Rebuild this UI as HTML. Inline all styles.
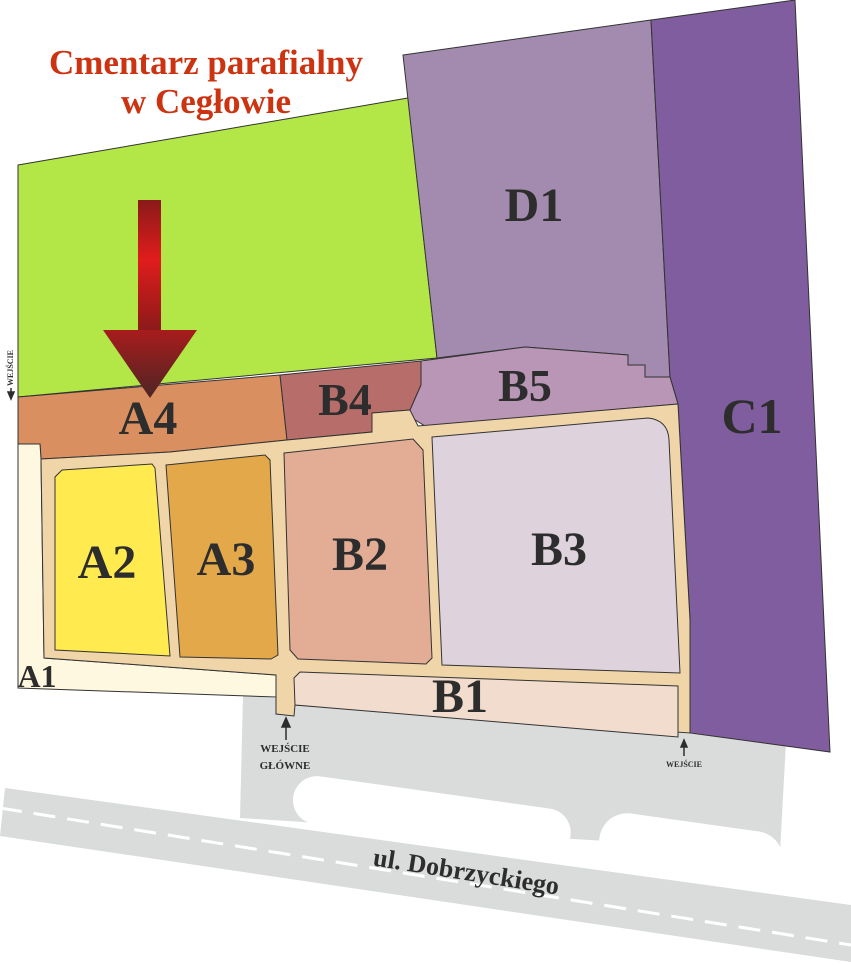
<!DOCTYPE html>
<html><head><meta charset="utf-8"><style>
html,body{margin:0;padding:0;background:#fff;width:851px;height:965px;overflow:hidden}
svg{display:block}
.l{font-family:"Liberation Serif",serif;font-weight:bold;fill:#2d2d2d;text-anchor:middle}
</style></head><body>
<svg width="851" height="965" viewBox="0 0 851 965" xmlns="http://www.w3.org/2000/svg">
<defs>
<linearGradient id="sh" x1="0" y1="0" x2="0" y2="1">
<stop offset="0" stop-color="#8a1a1a"/><stop offset="0.45" stop-color="#e01c1c"/><stop offset="1" stop-color="#8a1a1a"/></linearGradient>
<linearGradient id="hd" x1="0" y1="0" x2="0" y2="1">
<stop offset="0" stop-color="#a81c1c"/><stop offset="1" stop-color="#4e2525"/></linearGradient>
</defs>
<!-- road / parking -->
<polygon points="5,788 851,905 851,962 0,836" fill="#dadcdb"/>
<polygon points="243,695 786,742 780,852 240,818" fill="#dadcdb"/>
<g transform="rotate(8 430 815)"><rect x="292" y="792" width="280" height="48" rx="24" fill="#fff"/></g>
<g transform="rotate(8 690 840)"><rect x="600" y="822" width="185" height="60" rx="28" fill="#fff"/></g>
<line x1="0" y1="808" x2="851" y2="945" stroke="#fff" stroke-width="3" stroke-dasharray="22 12"/>
<text class="l" font-size="26" transform="translate(465,880) rotate(9)">ul. Dobrzyckiego</text>
<g stroke="#333" stroke-width="1">
<polygon points="18,165 408,98 437,358 18,397" fill="#b3e647"/>
<polygon points="403,55 651,20 670,377 645,377 645,365 628,365 628,355 525,347 437,358" fill="#a38bb0"/>
<polygon points="651,20 795,0 830,752 690,733 690,620 678,404 670,377" fill="#7f5d9e"/>
<polygon points="18,397 280,375 287,440 170,452 41,459 40,444 18,444" fill="#d98f5f"/>
<polygon points="280,375 421,361 421,385 410,410 372,413 372,432 287,440" fill="#b76e6b"/>
<polygon points="421,361 525,347 628,355 628,365 645,365 645,377 670,377 678,404 425,426 412,418 410,410 421,385" fill="#ba96b6"/>
<polygon points="18,444 40,444 41,459 44,658 140,665 276,675 276,697 18,688" fill="#fef8e0"/>
<polygon points="41,459 170,452 287,440 372,432 372,413 410,410 418,426 678,404 690,620 690,733 295,705 294,716 276,714 276,675 140,665 44,658" fill="#f0d5a8"/>
<polygon points="300,672 678,686 678,737 295,705 294,678" fill="#f2dccd"/>
<polygon points="62,470 152,464 155,468 170,656 55,650 55,477" fill="#ffeb50"/>
<polygon points="166,465 265,455 270,460 278,655 271,659 180,657" fill="#e2a84a"/>
<polygon points="284,453 413,439 423,450 432,658 426,664 298,659 290,650" fill="#e2ac95"/>
<path d="M432,437 L648,418 Q668,420 669,440 L680,673 L442,665 Z" fill="#ded3dc"/>
</g>
<rect x="138" y="200" width="23" height="132" fill="url(#sh)"/>
<polygon points="103,330 197,330 150,398" fill="url(#hd)"/>
<text x="206" y="74" font-family="Liberation Serif,serif" font-weight="bold" font-size="35" fill="#cc3311" text-anchor="middle">Cmentarz parafialny</text>
<text x="206" y="113" font-family="Liberation Serif,serif" font-weight="bold" font-size="35" fill="#cc3311" text-anchor="middle">w Cegłowie</text>
<text class="l" x="148" y="434" font-size="48">A4</text>
<text class="l" x="345" y="415" font-size="46">B4</text>
<text class="l" x="525" y="401" font-size="46">B5</text>
<text class="l" x="534" y="221" font-size="48">D1</text>
<text class="l" x="752" y="433" font-size="50">C1</text>
<text class="l" x="107" y="578" font-size="48">A2</text>
<text class="l" x="226" y="575" font-size="48">A3</text>
<text class="l" x="360" y="570" font-size="48">B2</text>
<text class="l" x="559" y="565" font-size="48">B3</text>
<text class="l" x="460" y="712" font-size="48">B1</text>
<text class="l" x="37" y="687" font-size="32">A1</text>
<g stroke="#2d2d2d" stroke-width="1.5" fill="#2d2d2d">
<line x1="286" y1="720" x2="286" y2="740"/><polygon points="282,727 290,727 286,718"/>
<line x1="684" y1="742" x2="684" y2="756"/><polygon points="681,747 687,747 684,740"/>
<line x1="11" y1="388" x2="11" y2="397"/><polygon points="8,392 14,392 11,399"/>
</g>
<text class="l" x="285" y="752" font-size="11">WEJŚCIE</text>
<text class="l" x="285" y="769" font-size="11">GŁÓWNE</text>
<text class="l" x="684" y="767" font-size="8">WEJŚCIE</text>
<text class="l" font-size="8" transform="translate(13,368) rotate(-90)">WEJŚCIE</text>
</svg>
</body></html>
